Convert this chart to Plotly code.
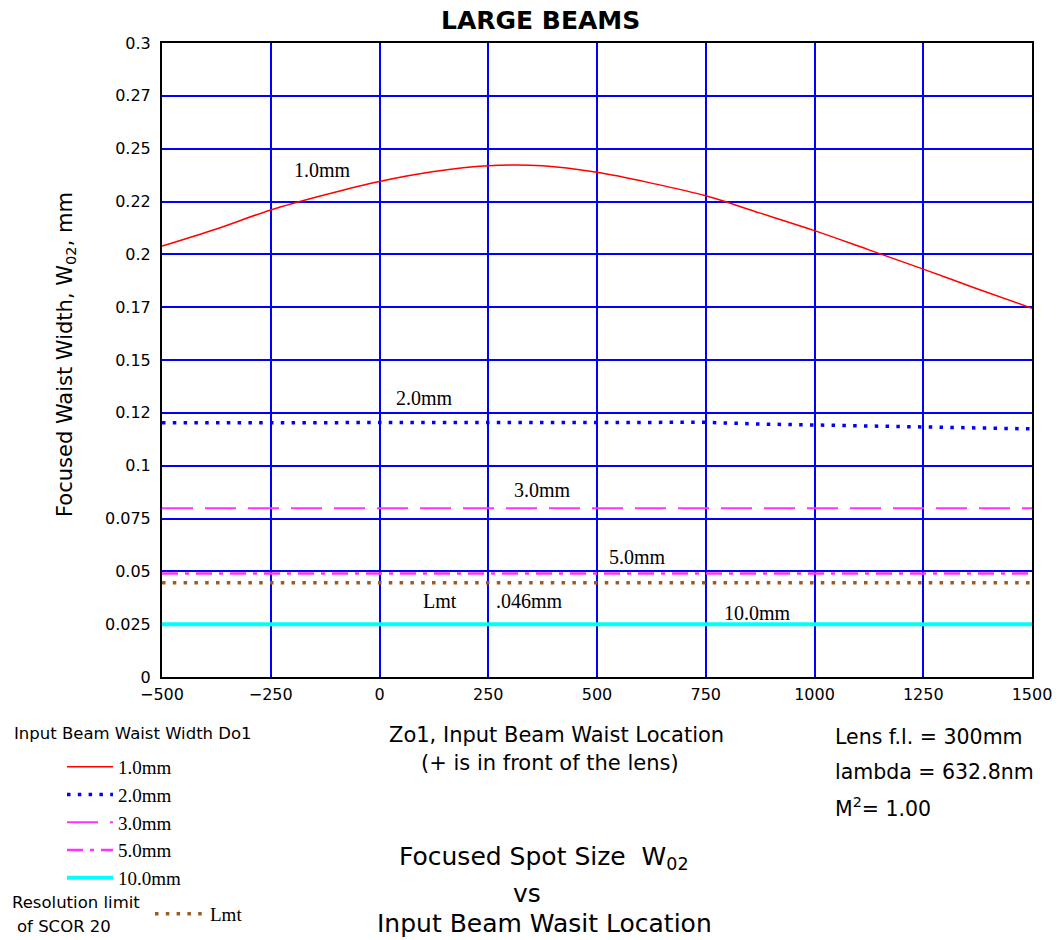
import plotly.graph_objects as go

# ---------------- data ----------------
z_1mm = [-500, -375, -250, -125, 0, 125, 250, 375, 500, 625, 750, 875, 1000, 1125, 1250, 1375, 1500]
w_1mm = [0.2039, 0.2120, 0.2210, 0.2282, 0.2345, 0.2392, 0.2419, 0.2419, 0.2388, 0.2337,
         0.2277, 0.2195, 0.2112, 0.2021, 0.1930, 0.1836, 0.1745]
z_2mm = [-500, -250, 0, 250, 500, 750, 875, 1000, 1125, 1250, 1375, 1500]
w_2mm = [0.1203, 0.1204, 0.1205, 0.1207, 0.1207, 0.1205, 0.1197, 0.1192, 0.1187, 0.1183, 0.1178, 0.1174]
z_flat = [-500, 1500]
w_3mm = [0.0798, 0.0798]
w_5mm = [0.0490, 0.0490]
w_lmt = [0.0446, 0.0446]
w_10mm = [0.0250, 0.0250]

series_names = ["1.0mm", "2.0mm", "3.0mm", "5.0mm", "10.0mm", "Lmt"]

x_tickvals = [-500, -250, 0, 250, 500, 750, 1000, 1250, 1500]
y_tickvals = [0, 0.025, 0.05, 0.075, 0.1, 0.125, 0.15, 0.175, 0.2, 0.225, 0.25, 0.275, 0.3]
y_ticktext = ["0", "0.025", "0.05", "0.075", "0.1", "0.12", "0.15", "0.17", "0.2", "0.22", "0.25", "0.27", "0.3"]

# in-plot curve labels (text, x, y)
curve_labels = [("1.0mm", -130, 0.240), ("2.0mm", 104, 0.132), ("3.0mm", 374, 0.0884),
                ("5.0mm", 594, 0.0568), ("Lmt", 140, 0.0359), (".046mm", 344, 0.0359),
                ("10.0mm", 868, 0.0303)]

# ---------------- figure ----------------
SERIF = "Liberation Serif"
SANS = "DejaVu Sans"

fig = go.Figure()
fig.add_trace(go.Scatter(x=z_1mm, y=w_1mm, mode="lines", name=series_names[0], line_shape="spline",
                         line=dict(color="#ff0000", width=1.5)))
fig.add_trace(go.Scatter(x=z_2mm, y=w_2mm, mode="lines", name=series_names[1],
                         line=dict(color="#0000ff", width=3.5, dash="3.5px,7.3px")))
fig.add_trace(go.Scatter(x=z_flat, y=w_3mm, mode="lines", name=series_names[2],
                         line=dict(color="#ff33ff", width=2, dash="31px,12px")))
fig.add_trace(go.Scatter(x=z_flat, y=w_5mm, mode="lines", name=series_names[3],
                         line=dict(color="#ff33ff", width=2.5, dash="16px,7px,4px,7px")))
fig.add_trace(go.Scatter(x=z_flat, y=w_10mm, mode="lines", name=series_names[4],
                         line=dict(color="#00ffff", width=4)))
fig.add_trace(go.Scatter(x=z_flat, y=w_lmt, mode="lines", name=series_names[5], legend="legend2",
                         line=dict(color="#9c5a22", width=3.5, dash="3.5px,7.3px")))

L, R, T, B = 162, 28, 43, 263
W, H = 1060, 940
PW, PH = W - L - R, H - T - B


def px(x):
    return (x - L) / PW


def py(y):
    return (H - B - y) / PH


annotations = []
for txt, xv, yv in curve_labels:
    annotations.append(dict(x=xv, y=yv, xref="x", yref="y", text=txt, showarrow=False,
                            font=dict(family=SERIF, size=20, color="black")))


def ann(text, x, y, size, family=SANS, xanchor="center", **kw):
    annotations.append(dict(x=px(x), y=py(y), xref="paper", yref="paper", text=text, showarrow=False,
                            xanchor=xanchor, yanchor="middle", font=dict(family=family, size=size, color="black"),
                            **kw))


ann("<b>LARGE BEAMS</b>", 540, 20, 25)
ann("Focused Waist Width, W<sub>02</sub>, mm", 66, 355, 21, textangle=-90)
ann("Zo1, Input Beam Waist Location", 556, 735, 21)
ann("(+ is in front of the lens)", 550, 763, 21)
ann("Focused Spot Size  W<sub>02</sub>", 544, 858, 25)
ann("vs", 527, 893, 25)
ann("Input Beam Wasit Location", 544, 923, 25)
ann("Lens f.l. = 300mm", 833, 737, 20.5, xanchor="left")
ann("lambda = 632.8nm", 833, 772, 20.5, xanchor="left")
ann("M<sup>2</sup>= 1.00", 833, 807, 20.5, xanchor="left")
ann("Input Beam Waist Width Do1", 12, 734, 16.5, xanchor="left")
ann("Resolution limit", 10, 902, 16.5, xanchor="left")
ann("of SCOR 20", 15, 926, 16.5, xanchor="left")

fig.update_layout(
    width=W, height=H,
    margin=dict(l=L, r=R, t=T, b=B, autoexpand=False),
    paper_bgcolor="white", plot_bgcolor="white",
    annotations=annotations,
    showlegend=True,
    legend=dict(x=px(62), y=py(748), xanchor="left", yanchor="top", bgcolor="rgba(0,0,0,0)",
                font=dict(family=SERIF, size=19, color="black"), itemwidth=46, tracegroupgap=0,
                traceorder="normal"),
    legend2=dict(x=px(150), y=py(895), xanchor="left", yanchor="top", bgcolor="rgba(0,0,0,0)",
                 font=dict(family=SERIF, size=19, color="black"), itemwidth=50),
    xaxis=dict(range=[-500, 1500], tickvals=x_tickvals, showgrid=True, gridcolor="#0000ff", gridwidth=1.6,
               zeroline=False, showline=True, linecolor="black", linewidth=2, mirror=True,
               ticks="", ticklabelstandoff=2,
               tickfont=dict(family=SANS, size=16, color="black")),
    yaxis=dict(range=[0, 0.3], tickvals=y_tickvals, ticktext=y_ticktext, showgrid=True, gridcolor="#0000ff",
               gridwidth=1.6, zeroline=False, showline=True, linecolor="black", linewidth=2, mirror=True,
               ticks="", ticklabelstandoff=6,
               tickfont=dict(family=SANS, size=16, color="black")),
)

fig.write_html("out.html", config={"displayModeBar": False},
               post_script="document.body.style.margin='0';")
